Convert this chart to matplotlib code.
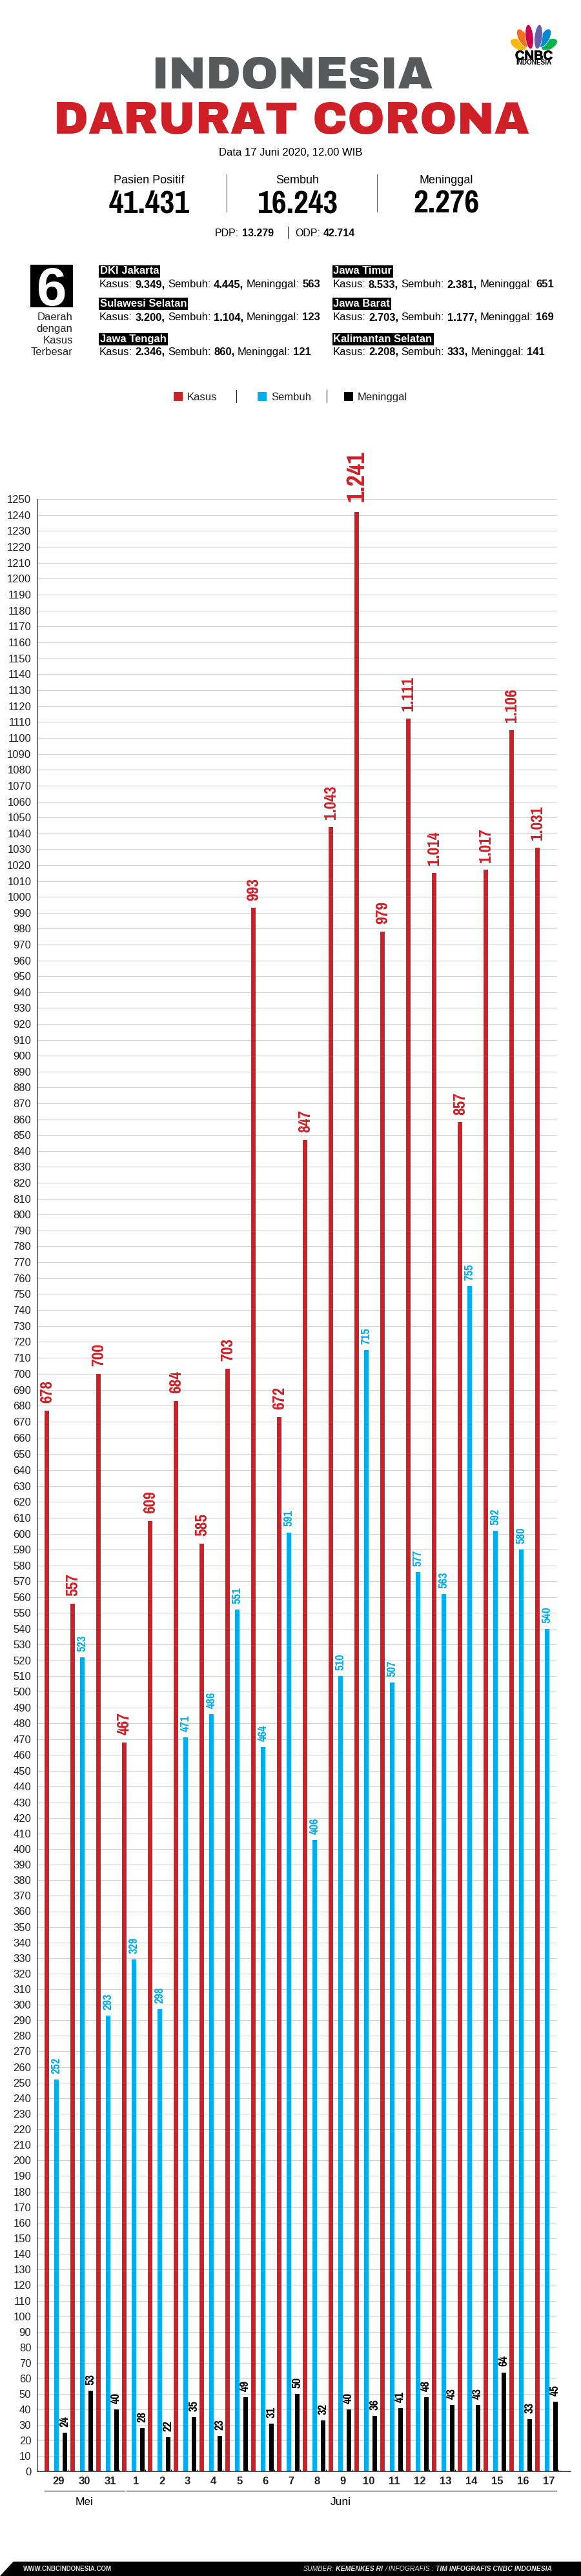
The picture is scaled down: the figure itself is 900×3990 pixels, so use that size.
import numpy as np
import matplotlib
matplotlib.use("Agg")
import matplotlib.pyplot as plt
from matplotlib.patches import Ellipse, Polygon, Rectangle
import matplotlib.patheffects as pe

plt.rcParams['font.family'] = ['Liberation Sans', 'DejaVu Sans']
NARROW = ['Pragati Narrow', 'PT Sans Narrow', 'Liberation Sans']
HEAVY = ['Archivo Black', 'Liberation Sans']

RED = '#cf2027'
BLUE = '#00aeef'
GREY = '#58595b'
GRID = '#d4d5d7'

# chart data
days = ['29', '30', '31', '1', '2', '3', '4', '5', '6', '7', '8', '9', '10', '11', '12', '13', '14', '15', '16', '17']
kasus = [677, 556, 700, 468, 608, 683, 594, 703, 993, 673, 847, 1044, 1242, 978, 1112, 1015, 858, 1017, 1105, 1031]
sembuh = [252, 522, 293, 329, 297, 471, 486, 552, 465, 601, 406, 510, 715, 506, 576, 562, 755, 602, 590, 540]
meninggal = [25, 52, 40, 28, 22, 35, 23, 48, 31, 50, 33, 40, 36, 41, 48, 43, 43, 64, 34, 45]
# printed labels, a few differ from the bar height in the original
kasus_lbl = ['678', '557', '700', '467', '609', '684', '585', '703', '993', '672', '847', '1.043', '1.241', '979',
             '1.111', '1.014', '857', '1.017', '1.106', '1.031']
sembuh_lbl = ['252', '523', '293', '329', '298', '471', '486', '551', '464', '591', '406', '510', '715', '507',
              '577', '563', '755', '592', '580', '540']
meninggal_lbl = ['24', '53', '40', '28', '22', '35', '23', '49', '31', '50', '32', '40', '36', '41', '48', '43',
                 '43', '64', '33', '45']

# header data
stat_names = ['Pasien Positif', 'Sembuh', 'Meninggal']
stat_values = ['41.431', '16.243', '2.276']
region_names = ['DKI Jakarta', 'Sulawesi Selatan', 'Jawa Tengah', 'Jawa Timur', 'Jawa Barat', 'Kalimantan Selatan']
region_kasus = ['9.349,', '3.200,', '2.346,', '8.533,', '2.703,', '2.208,']
region_sembuh = ['4.445,', '1.104,', '860,', '2.381,', '1.177,', '333,']
region_mati = ['563', '123', '121', '651', '169', '141']

W, H = 900, 3990
fig = plt.figure(figsize=(W / 100, H / 100), dpi=100, facecolor='white')

# ---- page layer, in pixels of the picture
pg = fig.add_axes([0, 0, 1, 1])
pg.set_xlim(0, W)
pg.set_ylim(H, 0)
pg.axis('off')
renderer = fig.canvas.get_renderer()


def runs(x, y, parts, size, color='black', style='normal', fam=None):
    # text with mixed weights, one after the other
    for s, weight in parts:
        t = pg.text(x, y, s.strip(), fontsize=size, fontweight=weight, color=color, style=style,
                    ha='left', va='center_baseline', family=fam or plt.rcParams['font.family'])
        x += t.get_window_extent(renderer).width
        if s.endswith(' '):
            x += size * 0.38


# title
pg.text(452, 112, 'INDONESIA', fontsize=50, color=GREY, ha='center', va='center_baseline', family=HEAVY)
pg.text(451, 181, 'DARURAT CORONA', fontsize=50, color=RED, ha='center', va='center_baseline', family=HEAVY)
pg.text(450, 234.7, 'Data 17 Juni 2020, 12.00 WIB', fontsize=12, ha='center', va='center_baseline')

# logo
feathers = [(803, 69, 15, 27, 60, '#fcb711'), (851, 69, 15, 27, -60, '#0db14b'),
            (810, 59, 14, 31, 28, '#f37021'), (844, 59, 14, 31, -28, '#0089d0'),
            (820, 57, 12, 38, 6, '#cc004c'), (834, 57, 12, 38, -6, '#6460aa')]
for fx, fy, fw, fh, ang, col in feathers:
    pg.add_patch(Ellipse((fx, fy), fw, fh, angle=-ang, facecolor=col, edgecolor='white', lw=0.5))
pg.add_patch(Rectangle((790, 77), 74, 3, facecolor='white', edgecolor='none'))
pg.text(827, 85, 'CNBC', fontsize=14.5, fontweight='bold', ha='center', va='center_baseline',
        path_effects=[pe.withStroke(linewidth=0.6, foreground='black')])
pg.text(827, 95.5, 'INDONESIA', fontsize=7.2, fontweight='bold', ha='center', va='center_baseline')

# totals
for xc, name, val in zip([231, 461, 691.7], stat_names, stat_values):
    pg.text(xc, 277, name, fontsize=13, ha='center', va='center_baseline')
    pg.text(xc, 311, val, fontsize=39, fontweight='bold', ha='center', va='center_baseline', family=NARROW)
for xs in [351, 584.4]:
    pg.plot([xs, xs], [270, 328], color=GREY, lw=0.8)
runs(333, 359.7, [('PDP: ', 'normal'), ('13.279', 'bold')], 11.5)
pg.plot([446, 446], [350.7, 369], color='#222222', lw=0.8)
runs(457.5, 359.7, [('ODP: ', 'normal'), ('42.714', 'bold')], 11.5)

# six regions
pg.add_patch(Rectangle((47, 409.7), 65.5, 66, facecolor='black', edgecolor='none'))
pg.text(80, 443, '6', fontsize=60, fontweight='bold', color='white', ha='center', va='center_baseline')
for yc, s in zip([490, 508, 526, 544], ['Daerah', 'dengan', 'Kasus', 'Terbesar']):
    pg.text(112.5, yc, s, fontsize=12, ha='right', va='center_baseline', color='#222222')
col_x = [153.8, 153.8, 153.8, 515.5, 515.5, 515.5]
head_y = [418.5, 469.3, 524, 418.5, 469.3, 524]
line_y = [439, 490.3, 544, 439, 490.3, 544]
for i in range(len(region_names)):
    pg.text(col_x[i] + 1, head_y[i], region_names[i], fontsize=12, fontweight='bold', color='white', ha='left',
            va='center_baseline', bbox=dict(facecolor='black', edgecolor='none', boxstyle='square,pad=0.12'))
    runs(col_x[i], line_y[i], [('Kasus: ', 'normal'), (region_kasus[i] + ' ', 'bold'), ('Sembuh: ', 'normal'),
                               (region_sembuh[i] + ' ', 'bold'), ('Meninggal: ', 'normal'),
                               (region_mati[i], 'bold')], 12)

# legend
for x0, col, s in [(269, RED, 'Kasus'), (399, BLUE, 'Sembuh'), (532.7, 'black', 'Meninggal')]:
    pg.add_patch(Rectangle((x0, 607), 14.4, 13.8, facecolor=col, edgecolor='none'))
    pg.text(x0 + 21, 614.3, s, fontsize=12, ha='left', va='center_baseline', color='#222222')
for xs in [365.7, 506.3]:
    pg.plot([xs, xs], [604.3, 623.3], color='#222222', lw=0.8)

# month brackets under the chart
pg.plot([69.3, 192.7], [3857.7, 3857.7], color=GREY, lw=1)
pg.plot([196, 862], [3857.7, 3857.7], color=GREY, lw=1)
pg.text(131, 3874, 'Mei', fontsize=12.5, ha='center', va='center_baseline')
pg.text(528, 3874, 'Juni', fontsize=12.5, ha='center', va='center_baseline')

# footer
pg.add_patch(Polygon([(0, 3990), (20.7, 3967.7), (900, 3967.7), (900, 3990)], facecolor='black', edgecolor='none'))
pg.text(36, 3978, 'WWW.CNBCINDONESIA.COM', fontsize=7, fontweight='bold', color='#e6e6e6', ha='left',
        va='center_baseline')
runs(469.6, 3978, [('SUMBER: ', 'normal'), ('KEMENKES RI ', 'bold'), ('/ INFOGRAFIS : ', 'normal'),
                   ('TIM INFOGRAFIS CNBC INDONESIA', 'bold')], 7.6, color='#e6e6e6', style='italic')

# ---- chart, 40 px per day, first Sembuh bar at 87.7 px
px_left, px_right, px_top, px_base = 57.7, 884, 773, 3828
ax = fig.add_axes([px_left / W, 1 - px_base / H, (px_right - px_left) / W, (px_base - px_top) / H])
ax.patch.set_alpha(0)
ax.set_xlim((px_left - 87.7) / 40, (px_right - 87.7) / 40)

# grid spacing in the original is not even, so the y scale follows it
scale_v = [0, 50, 300, 420, 600, 700, 790, 1060, 1250]
scale_p = [0, 119.7, 723, 1012, 1452, 1700.3, 1922.3, 2586.3, 3055]
ax.set_yscale('function', functions=(lambda v: np.interp(v, scale_v, scale_p),
                                     lambda p: np.interp(p, scale_p, scale_v)))
ax.set_ylim(0, 1250)

x = np.arange(len(days))
yt = np.arange(0, 1251, 10)
ax.hlines(yt[1:], ax.get_xlim()[0], (862 - 87.7) / 40, color=GRID, lw=0.9, zorder=1)

bw = 6.7 / 40
series = [(kasus, kasus_lbl, -0.375, RED, 20, 8.6), (sembuh, sembuh_lbl, 0.0, BLUE, 14.5, 6.5),
          (meninggal, meninggal_lbl, 0.315, 'black', 14.5, 6.5)]
for vals, lbls, off, col, fs, gap in series:
    ax.bar(x + off, vals, width=bw, color=col, zorder=2)
    for xi, v, s in zip(x + off, vals, lbls):
        big = s == '1.241'
        ax.annotate(s, (xi, v), xytext=(0, 11 if big else gap), textcoords='offset points', rotation=90,
                    ha='center', va='bottom', color=col, fontsize=30 if big else fs, fontweight='bold',
                    family=NARROW, zorder=3, annotation_clip=False)

ax.set_yticks(yt)
ax.set_yticklabels([str(v) for v in yt], fontsize=12, color='#222222')
ax.set_xticks(x + 0.075)
ax.set_xticklabels(days, fontsize=12, fontweight='bold', color='#222222')
ax.set_xticks(x + 0.44, minor=True)
ax.tick_params(axis='y', which='both', length=0, pad=6.8)
ax.tick_params(axis='x', which='major', length=0, pad=5.8)
ax.tick_params(axis='x', which='minor', direction='in', length=2.5, width=0.8, color='black')
for s in ['top', 'right']:
    ax.spines[s].set_visible(False)
ax.spines['left'].set_linewidth(0.8)
ax.spines['left'].set_color('#222222')
ax.spines['bottom'].set_linewidth(1.3)
ax.spines['bottom'].set_color('#444444')

fig.savefig('out.png', dpi=100)
